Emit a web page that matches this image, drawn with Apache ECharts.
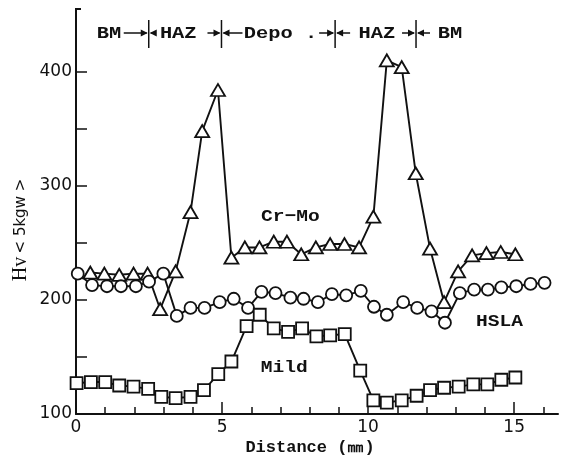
<!DOCTYPE html>
<html><head><meta charset="utf-8">
<script src="https://cdn.jsdelivr.net/npm/echarts@6/dist/echarts.min.js"></script>
<style>html,body{margin:0;padding:0;background:#fff}#c{width:565px;height:457px}</style>
</head><body><div id="c"></div>
<script>
// ---- data ----
const crMoX = [0.49, 0.97, 1.48, 1.97, 2.45, 2.88, 3.41, 3.92, 4.32, 4.86, 5.32, 5.78, 6.28, 6.77, 7.22, 7.71, 8.21, 8.7, 9.19, 9.69, 10.18, 10.64, 11.15, 11.63, 12.12, 12.6, 13.08, 13.56, 14.05, 14.54, 15.04];
const crMoY = [224, 223, 222, 223, 223, 192, 225, 277, 348, 384, 237, 246, 246, 251, 251, 240, 246, 249, 249, 246, 273, 410, 404, 311, 245, 198, 225, 239, 241, 242, 240];
const hslaX = [0.06, 0.55, 1.06, 1.54, 2.05, 2.5, 2.99, 3.45, 3.92, 4.4, 4.92, 5.4, 5.89, 6.35, 6.83, 7.34, 7.79, 8.28, 8.76, 9.25, 9.75, 10.2, 10.64, 11.2, 11.68, 12.17, 12.63, 13.14, 13.63, 14.1, 14.56, 15.07, 15.56, 16.04];
const hslaY = [223, 213, 212, 212, 212, 216, 223, 186, 193, 193, 198, 201, 193, 207, 206, 202, 201, 198, 205, 204, 208, 194, 187, 198, 193, 190, 180, 206, 209, 209, 211, 212, 214, 215];
const mildX = [0.02, 0.51, 1.0, 1.48, 1.97, 2.47, 2.92, 3.41, 3.92, 4.38, 4.87, 5.32, 5.84, 6.29, 6.77, 7.26, 7.74, 8.23, 8.7, 9.2, 9.73, 10.18, 10.64, 11.15, 11.66, 12.12, 12.6, 13.1, 13.6, 14.08, 14.56, 15.04];
const mildY = [127, 128, 128, 125, 124, 122, 115, 114, 115, 121, 135, 146, 177, 187, 175, 172, 175, 168, 169, 170, 138, 112, 110, 112, 116, 121, 123, 124, 126, 126, 130, 132];

const xTickLabels = [0, 5, 10, 15];
const yTickLabels = [100, 200, 300, 400];
const yTicks = [150, 200, 250, 300, 350, 400];
const seriesNames = ['Cr\u2212Mo', 'HSLA', 'Mild'];
const zoneNames = ['BM', 'HAZ', 'Depo .', 'HAZ', 'BM'];
const zoneCenters = [1.13, 3.5, 7.0, 10.3, 12.8];
const zoneBounds = [2.49, 4.98, 8.87, 11.64];

// ---- styles / positions (not data) ----
const seriesLabelPos = [[7.34, 273], [14.5, 181], [7.13, 141]];
const arrowLeftLen = [25, 14, 16, 14];
const arrowRightLen = [6, 21, 15, 14];
const INK = '#111';
const MONO = '"Liberation Mono", "DejaVu Sans Mono", monospace';

const zip = (xs, ys) => xs.map((x, i) => [x, ys[i]]);

const chart = echarts.init(document.getElementById('c'), null, {renderer: 'canvas'});

function lineSeries(name, xs, ys, symbol, size) {
  return {
    type: 'line', name, data: zip(xs, ys), symbol, symbolSize: size,
    showAllSymbol: true, animation: false,
    lineStyle: {color: INK, width: 1.9},
    itemStyle: {color: '#fff', borderColor: INK, borderWidth: 1.8},
    emphasis: {disabled: true}
  };
}

chart.setOption({
  animation: false,
  backgroundColor: '#fff',
  grid: {left: 76, right: 7, top: 9, bottom: 43, containLabel: false, outerBoundsMode: 'none'},
  xAxis: {
    type: 'value', min: 0, max: 16.5, interval: 5,
    axisLine: {lineStyle: {color: INK, width: 2}},
    axisTick: {inside: true, length: 12, lineStyle: {color: INK, width: 1.5}, customValues: xTickLabels},
    minorTick: {show: true, splitNumber: 5, length: 7, lineStyle: {color: INK, width: 1.5}},
    axisLabel: {customValues: xTickLabels, color: INK, fontFamily: 'DejaVu Sans', fontSize: 17, margin: 5},
    splitLine: {show: false}
  },
  yAxis: {
    type: 'value', min: 100, max: 455, interval: 50,
    axisLine: {show: true, lineStyle: {color: INK, width: 2}},
    axisTick: {show: true, inside: true, length: 11, lineStyle: {color: INK, width: 1.5}, customValues: yTicks},
    axisLabel: {customValues: yTickLabels, color: INK, fontFamily: 'DejaVu Sans', fontSize: 17, margin: 4},
    splitLine: {show: false}
  },
  series: [
    lineSeries(seriesNames[0], crMoX, crMoY, 'triangle', [14, 12]),
    lineSeries(seriesNames[1], hslaX, hslaY, 'circle', 12),
    lineSeries(seriesNames[2], mildX, mildY, 'rect', 12)
  ]
});

const px = d => chart.convertToPixel({xAxisIndex: 0}, d);
const py = v => chart.convertToPixel({yAxisIndex: 0}, v);

const g = [];
function text(str, x, y, size, sx, extra) {
  g.push(Object.assign({
    type: 'text', x, y, scaleX: sx, silent: true,
    style: {text: str, x: 0, y: 0, fill: INK, fontFamily: MONO, fontWeight: 'bold', fontSize: size,
      textAlign: 'center', textVerticalAlign: 'middle', align: 'center', verticalAlign: 'middle'}
  }, extra || {}));
}
function line(x1, y1, x2, y2, w) {
  g.push({type: 'line', silent: true, shape: {x1, y1, x2, y2}, style: {stroke: INK, lineWidth: w || 1.5}});
}
function head(x, y, dir) { // dir 1 points right, -1 points left
  g.push({type: 'polygon', silent: true, shape: {points: [[x - dir * 7, y - 3.5], [x, y], [x - dir * 7, y + 3.5]]}, style: {fill: INK}});
}

// zone annotations across the top
const yTop = 20, yBot = 48, yMid = 33;
zoneBounds.forEach((b, i) => {
  const X = px(b);
  line(X, yTop, X, yBot, 1.5);
  line(X - arrowLeftLen[i], yMid, X - 2, yMid, 1.5);
  head(X - 1, yMid, 1);
  line(X + 2, yMid, X + arrowRightLen[i], yMid, 1.5);
  head(X + 1, yMid, -1);
});
zoneNames.forEach((n, i) => text(n, px(zoneCenters[i]), yMid + 1, 17, 1.2));

// series labels
seriesNames.forEach((n, i) => text(n, px(seriesLabelPos[i][0]), py(seriesLabelPos[i][1]), 17, 1.15));

// top stub of y axis
line(px(0) - 1, py(455), px(0) + 5, py(455), 2);

// axis titles
text('Distance (\u339c)', 310, 448, 17, 1.0);
g.push({
  type: 'text', x: 21, y: 230, rotation: Math.PI / 2, silent: true,
  style: {
    text: '{a|Hv} {b|< 5kgw >}', x: 0, y: 0, fill: INK,
    textAlign: 'center', textVerticalAlign: 'middle', align: 'center', verticalAlign: 'middle',
    rich: {
      a: {fontFamily: '"Liberation Serif", serif', fontSize: 20, fill: INK, color: INK},
      b: {fontFamily: 'DejaVu Sans', fontSize: 15, fill: INK, color: INK}
    }
  }
});

chart.setOption({graphic: {elements: g}});
</script>
</body></html>
